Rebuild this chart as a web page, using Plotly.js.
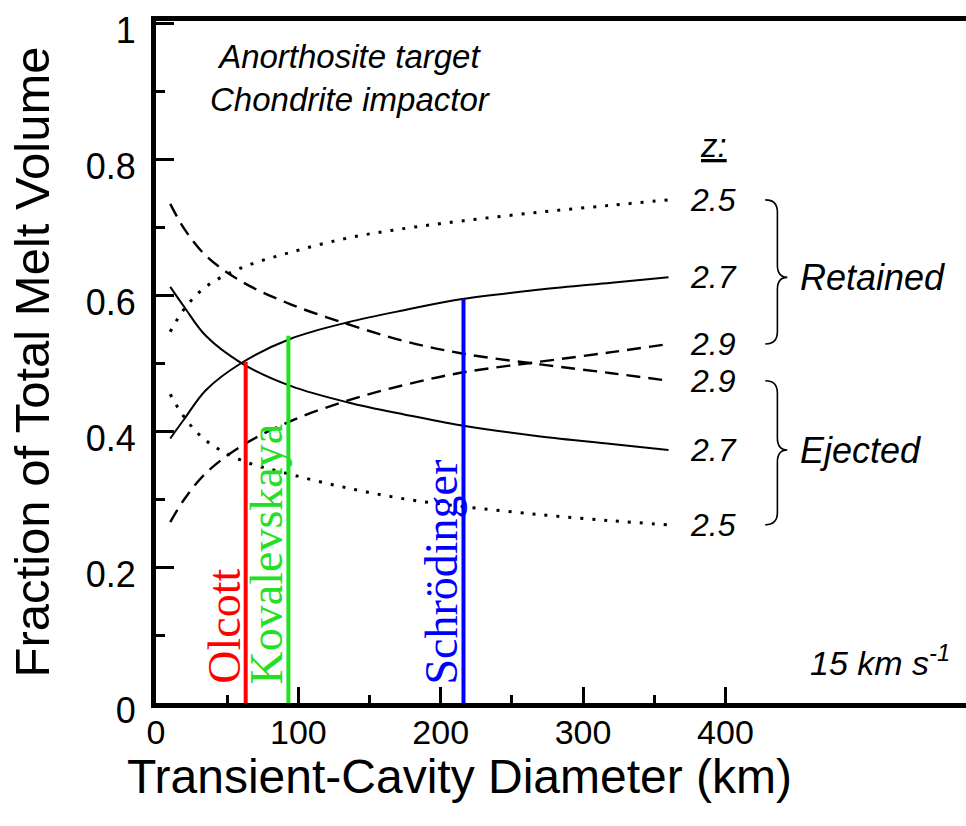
<!DOCTYPE html>
<html><head><meta charset="utf-8">
<script src="https://cdn.plot.ly/plotly-3.0.1.min.js"></script>
<style>html,body{margin:0;padding:0;overflow:hidden;background:#fff}</style>
</head><body><div id="chart" style="width:966px;height:826px"></div>
<script>
// Transient-cavity diameter (km)
const diameter = [10, 20, 35, 60, 95, 135, 175, 215, 270, 320, 360];
// Retained fractions
const retained25 = [0.546, 0.580, 0.612, 0.640, 0.663, 0.684, 0.698, 0.709, 0.722, 0.732, 0.740];
const retained27 = [0.389, 0.418, 0.460, 0.500, 0.536, 0.560, 0.578, 0.594, 0.608, 0.618, 0.626];
const retained29 = [0.266, 0.300, 0.338, 0.378, 0.415, 0.445, 0.468, 0.486, 0.502, 0.516, 0.528];
// Ejected fractions
const ejected25 = [0.454, 0.420, 0.386, 0.357, 0.336, 0.316, 0.300, 0.289, 0.277, 0.268, 0.262];
const ejected27 = [0.612, 0.582, 0.540, 0.500, 0.466, 0.442, 0.424, 0.408, 0.392, 0.381, 0.372];
const ejected29 = [0.734, 0.697, 0.658, 0.620, 0.586, 0.557, 0.532, 0.514, 0.498, 0.485, 0.474];
// Craters
const craterNames = ['Olcott', 'Kovalevskaya', 'Schrödinger'];
const craterDiameter = [63, 93, 216];
const craterTop = [0.502, 0.540, 0.594];
const craterColors = ['#ff0000', '#22e022', '#0000ff'];
// Axis ticks
const xTicks = [0, 100, 200, 300, 400];
const xMinorTicks = [50, 150, 250, 350];
const yTicks = [0, 0.2, 0.4, 0.6, 0.8, 1];
const yMinorTicks = [0.1, 0.3, 0.5, 0.7, 0.9];

const SANS = 'Liberation Sans, Arial, Helvetica, sans-serif';
const SERIF = 'Liberation Serif, Times New Roman, serif';

const series = [
  {y: retained25, dash: '3px,9px', z: '2.5'},
  {y: retained27, dash: 'solid', z: '2.7'},
  {y: retained29, dash: '14px,8px', z: '2.9'},
  {y: ejected29, dash: '14px,8px', z: '2.9'},
  {y: ejected27, dash: 'solid', z: '2.7'},
  {y: ejected25, dash: '3px,9px', z: '2.5'}
];

const traces = [];
series.forEach(s => traces.push({
  x: diameter, y: s.y, type: 'scatter', mode: 'lines',
  line: {color: '#000', width: s.dash === 'solid' ? 2 : (s.dash === '3px,9px' ? 3 : 2.4), dash: s.dash, shape: 'spline', smoothing: 1},
  hoverinfo: 'skip', showlegend: false
}));
craterNames.forEach((n, i) => traces.push({
  x: [craterDiameter[i], craterDiameter[i]], y: [0, craterTop[i]],
  type: 'scatter', mode: 'lines', line: {color: craterColors[i], width: 4},
  hoverinfo: 'skip', showlegend: false
}));

const lastX = diameter[diameter.length - 1];
const ann = [];
series.forEach(s => ann.push({
  x: lastX, y: s.y[s.y.length - 1], xref: 'x', yref: 'y', xanchor: 'left', yanchor: 'middle',
  xshift: 20, text: '<i>' + s.z + '</i>', showarrow: false,
  font: {family: SANS, size: 32, color: '#000'}
}));
ann.push({x: lastX, y: 0.82, xref: 'x', yref: 'y', xanchor: 'left', yanchor: 'middle', xshift: 30,
  text: '<i><span style="text-decoration:underline">z:</span></i>', showarrow: false,
  font: {family: SANS, size: 33, color: '#000'}});
craterNames.forEach((n, i) => ann.push({
  x: craterDiameter[i], y: 0.025, xref: 'x', yref: 'y', xanchor: 'right', yanchor: 'bottom',
  textangle: -90, text: n, showarrow: false, xshift: 6,
  font: {family: SERIF, size: 46, color: craterColors[i]}
}));
const r25 = retained25[retained25.length-1], r27 = retained27[retained27.length-1], r29 = retained29[retained29.length-1];
const e25 = ejected25[ejected25.length-1], e27 = ejected27[ejected27.length-1], e29 = ejected29[ejected29.length-1];
ann.push({x: lastX, y: r27, xref: 'x', yref: 'y', xanchor: 'left', yanchor: 'middle', xshift: 130,
  text: '<i>Retained</i>', showarrow: false, font: {family: SANS, size: 36, color: '#000'}});
ann.push({x: lastX, y: e27, xref: 'x', yref: 'y', xanchor: 'left', yanchor: 'middle', xshift: 130,
  text: '<i>Ejected</i>', showarrow: false, font: {family: SANS, size: 36, color: '#000'}});
ann.push({x: 0.24, y: 0.917, xref: 'paper', yref: 'paper', xanchor: 'center', yanchor: 'middle',
  text: '<i>Anorthosite target<br>Chondrite impactor</i>', showarrow: false,
  font: {family: SANS, size: 33, color: '#000'}});
ann.push({x: 0.983, y: 0.063, xref: 'paper', yref: 'paper', xanchor: 'right', yanchor: 'middle',
  text: '<i>15 km s<sup>-1</sup></i>', showarrow: false,
  font: {family: SANS, size: 34, color: '#000'}});
ann.push({x: 0.375, y: -0.108, xref: 'paper', yref: 'paper', xanchor: 'center', yanchor: 'middle',
  text: 'Transient-Cavity Diameter (km)', showarrow: false,
  font: {family: SANS, size: 48, color: '#000'}});

// braces (x in data units near the z labels)
const bx0 = 428, bx1 = 436.5, bx2 = 443.5, c = 0.018;
function brace(yt, ym, yb) {
  return 'M ' + bx0 + ',' + yt + ' Q ' + bx1 + ',' + yt + ' ' + bx1 + ',' + (yt - c) +
    ' L ' + bx1 + ',' + (ym + c) + ' Q ' + bx1 + ',' + ym + ' ' + bx2 + ',' + ym +
    ' Q ' + bx1 + ',' + ym + ' ' + bx1 + ',' + (ym - c) +
    ' L ' + bx1 + ',' + (yb + c) + ' Q ' + bx1 + ',' + yb + ' ' + bx0 + ',' + yb;
}
const shapes = [
  {type: 'path', xref: 'x', yref: 'y', path: brace(r25, r27, r29), line: {color: '#000', width: 1.6}},
  {type: 'path', xref: 'x', yref: 'y', path: brace(e29, e27, e25), line: {color: '#000', width: 1.6}}
];

const layout = {
  width: 966, height: 826,
  margin: {l: 156, r: 0, t: 21, b: 123, pad: 0},
  paper_bgcolor: '#fff', plot_bgcolor: '#fff',
  showlegend: false,
  xaxis: {
    range: [0, 569], showgrid: false, zeroline: false,
    showline: true, linewidth: 5, linecolor: '#000', mirror: true,
    tickmode: 'array', tickvals: xTicks, ticktext: xTicks.map(String),
    ticks: 'inside', ticklen: 16, tickwidth: 3, tickcolor: '#000',
    ticklabelstandoff: -5,
    tickfont: {family: SANS, size: 34, color: '#000'},
    minor: {tickmode: 'array', tickvals: xMinorTicks, ticks: 'inside', ticklen: 8, tickwidth: 3, tickcolor: '#000', showgrid: false}
  },
  yaxis: {
    range: [0, 1.003], showgrid: false, zeroline: false,
    showline: true, linewidth: 5, linecolor: '#000', mirror: false,
    tickmode: 'array', tickvals: yTicks, ticktext: yTicks.map(String),
    ticks: 'inside', ticklen: 18, tickwidth: 3, tickcolor: '#000',
    ticklabelstandoff: 8, ticklabelshift: 7, ticklabeloverflow: 'allow',
    tickfont: {family: SANS, size: 36, color: '#000'},
    minor: {tickmode: 'array', tickvals: yMinorTicks, ticks: 'inside', ticklen: 9, tickwidth: 3, tickcolor: '#000', showgrid: false},
    title: {text: 'Fraction of Total Melt Volume', standoff: 22, font: {family: SANS, size: 49, color: '#000'}}
  },
  annotations: ann,
  shapes: shapes
};
Plotly.newPlot('chart', traces, layout, {staticPlot: true, displayModeBar: false});
</script></body></html>
